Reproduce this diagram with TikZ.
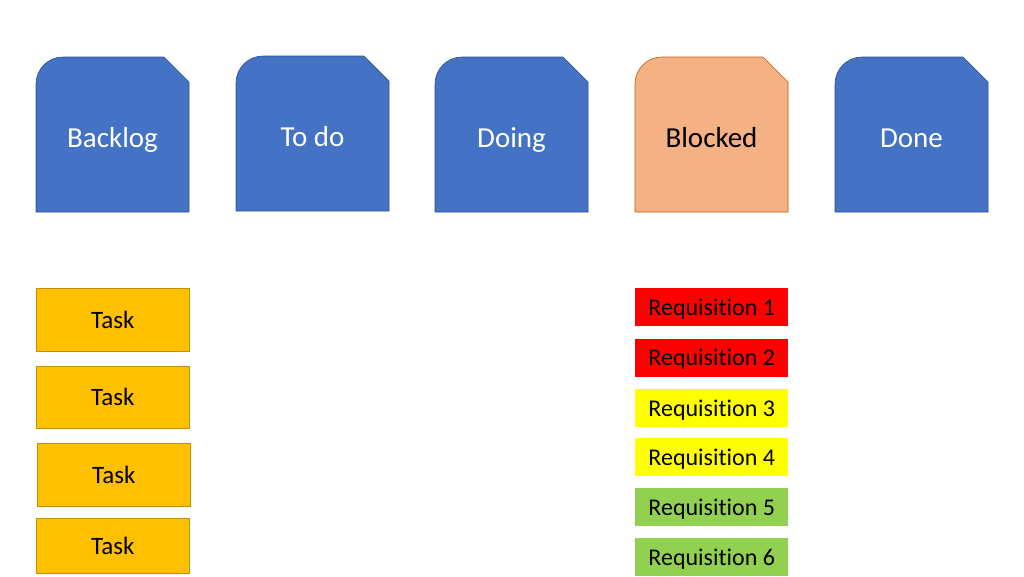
\documentclass[tikz,border=0pt]{standalone}
\usepackage{fontspec}
\setmainfont[Ligatures=NoCommon]{Carlito}
\usetikzlibrary{positioning}
\definecolor{headblue}{HTML}{4472C4}
\definecolor{headline}{HTML}{2F528F}
\definecolor{blockfill}{HTML}{F4B183}
\definecolor{blockline}{HTML}{C55A11}
\definecolor{taskfill}{HTML}{FFC000}
\definecolor{taskline}{HTML}{BF9000}
\definecolor{reqred}{HTML}{FF0000}
\definecolor{reqyellow}{HTML}{FFFF00}
\definecolor{reqgreen}{HTML}{92D050}

% header card: name, left, top, style, text
\newcommand{\kanbanhead}[5]{%
  \path[#4] (#2,#3+155) -- (#2,#3+27) arc[start angle=180,end angle=270,radius=27]
    -- (#2+128,#3) -- (#2+153,#3+25) -- (#2+153,#3+155) -- cycle;
  \node[headtext] (#1) at (#2+76.5,#3+90) {#5};}

\begin{document}
\begin{tikzpicture}[x=1pt,y=-1pt]
        \tikzset{head/.style={fill=headblue, draw=headline, line width=0.6pt},
                 blockhead/.style={fill=blockfill, draw=blockline, line width=0.6pt},
                 headtext/.style={anchor=base, font=\fontsize{29}{33}\selectfont},
                 task/.style={draw=taskline, fill=taskfill, line width=0.6pt, anchor=north west,
                   minimum width=153pt, inner sep=0pt, font=\fontsize{25}{29}\selectfont},
                 req/.style={fill=#1, anchor=north west, minimum width=153pt, minimum height=38pt,
                   inner sep=0pt, text depth=0pt, font=\fontsize{24}{28}\selectfont}}
        \useasboundingbox (0,0) rectangle (1024,576);
        \kanbanhead{backlog}{36}{57}{head}{\textcolor{white}{Backlog}}
        \kanbanhead{todo}{236}{56}{head}{\textcolor{white}{To do}}
        \kanbanhead{doing}{435}{57}{head}{\textcolor{white}{Doing}}
        \kanbanhead{blocked}{635}{57}{blockhead}{Blocked}
        \kanbanhead{done}{835}{57}{head}{\textcolor{white}{Done}}
        \node[task, minimum height=63pt] (task1) at (36,288) {Task};
        \node[task, minimum height=62pt] (task2) at (36,366) {Task};
        \node[task, minimum height=63pt] (task3) at (37,443) {Task};
        \node[task, minimum height=55pt] (task4) at (36,518) {Task};
        \node[req=reqred]    (req1) at (635,288)              {Requisition 1};
        \node[req=reqred]    (req2) [below=12pt of req1.south west, anchor=north west] {Requisition 2};
        \node[req=reqyellow] (req3) [below=12pt of req2.south west, anchor=north west] {Requisition 3};
        \node[req=reqyellow] (req4) [below=11pt of req3.south west, anchor=north west] {Requisition 4};
        \node[req=reqgreen]  (req5) [below=11pt of req4.south west, anchor=north west] {Requisition 5};
        \node[req=reqgreen]  (req6) [below=12pt of req5.south west, anchor=north west] {Requisition 6};
    \end{tikzpicture}
\end{document}
